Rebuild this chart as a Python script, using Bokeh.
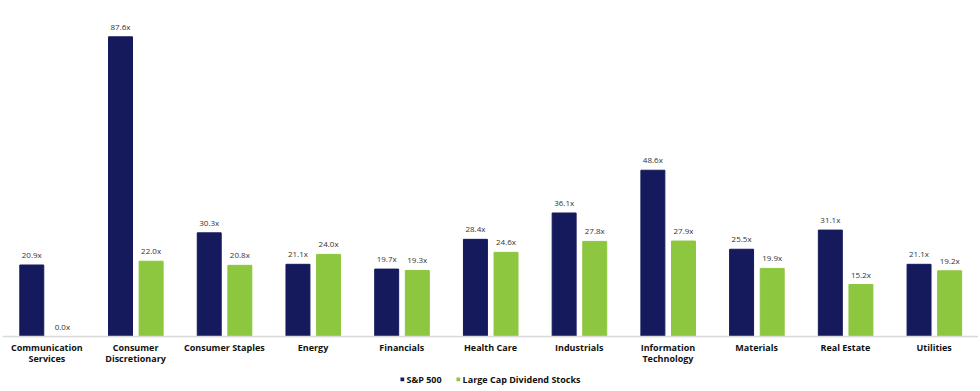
from bokeh.plotting import figure
from bokeh.layouts import column
from bokeh.models import ColumnDataSource, FactorRange, Range1d, Legend, LegendItem
from bokeh.core.properties import value
from bokeh.transform import dodge
from bokeh.embed import file_html
from bokeh.resources import INLINE

categories = ["Communication\nServices", "Consumer\nDiscretionary", "Consumer Staples", "Energy",
              "Financials", "Health Care", "Industrials", "Information\nTechnology",
              "Materials", "Real Estate", "Utilities"]
sp500 = [20.9, 87.6, 30.3, 21.1, 19.7, 28.4, 36.1, 48.6, 25.5, 31.1, 21.1]
large_cap_div = [0.0, 22.0, 20.8, 24.0, 19.3, 24.6, 27.8, 27.9, 19.9, 15.2, 19.2]
series_names = ["S&P 500", "Large Cap Dividend Stocks"]

NAVY = "#141A5C"
GREEN = "#8DC63F"
FONT = "Open Sans"

src = ColumnDataSource(dict(
    cat=categories,
    sp=sp500,
    lc=large_cap_div,
    sp_lbl=[f"{v:.1f}x" for v in sp500],
    lc_lbl=[f"{v:.1f}x" for v in large_cap_div],
))

p = figure(x_range=FactorRange(*categories), y_range=Range1d(0, 95),
           frame_width=976, frame_height=325,
           output_backend="svg", toolbar_location=None,
           min_border_left=2, min_border_right=0, min_border_top=11, min_border_bottom=0)
p.x_range.range_padding = 0

r1 = p.vbar(x=dodge("cat", -0.17, range=p.x_range), top="sp", width=0.27, source=src,
            fill_color=NAVY, line_color=NAVY)
r2 = p.vbar(x=dodge("cat", 0.175, range=p.x_range), top="lc", width=0.27, source=src,
            fill_color=GREEN, line_color=GREEN)

for col, lbl, off in (("sp", "sp_lbl", -0.17), ("lc", "lc_lbl", 0.175)):
    p.text(x=dodge("cat", off, range=p.x_range), y=col, text=lbl, source=src,
           text_align="center", text_baseline="bottom", y_offset=-5,
           text_font_size="8px", text_color="#333333", text_font=value(FONT))

p.yaxis.visible = False
p.xgrid.grid_line_color = None
p.ygrid.grid_line_color = None
p.outline_line_color = None
p.xaxis.axis_line_color = "#D9D9D9"
p.xaxis.axis_line_width = 1.5
p.xaxis.major_tick_line_color = None
p.xaxis.minor_tick_line_color = None
p.xaxis.major_tick_out = 0
p.xaxis.major_tick_in = 0
p.xaxis.major_label_standoff = 4
p.xaxis.major_label_text_font = FONT
p.xaxis.major_label_text_font_size = "9px"
p.xaxis.major_label_text_font_style = "bold"
p.xaxis.major_label_text_color = "#111111"
p.xaxis.major_label_text_line_height = 0.85

# legend strip below the chart (swatches use off-screen placeholder bars)
lf = figure(width=978, height=24, output_backend="svg", toolbar_location=None,
            min_border=0, x_range=(0, 1), y_range=(0, 1))
lf.axis.visible = False
lf.grid.grid_line_color = None
lf.outline_line_color = None
d1 = lf.vbar(x=[-5], top=[-5], bottom=[-6], width=0.1, fill_color=NAVY, line_color=None)
d2 = lf.vbar(x=[-5], top=[-5], bottom=[-6], width=0.1, fill_color=GREEN, line_color=None)
legend = Legend(items=[LegendItem(label=series_names[0], renderers=[d1]),
                       LegendItem(label=series_names[1], renderers=[d2])],
                orientation="horizontal", location="center",
                glyph_width=5, glyph_height=5, label_text_font=FONT,
                label_text_font_size="9px", label_text_font_style="bold",
                label_text_color="#111111", label_standoff=2, spacing=14,
                border_line_color=None, background_fill_alpha=0,
                padding=0, margin=0, label_height=10)
lf.add_layout(legend, "center")

layout = column(p, lf, spacing=0)
open("out.html", "w").write(file_html(layout, INLINE))
